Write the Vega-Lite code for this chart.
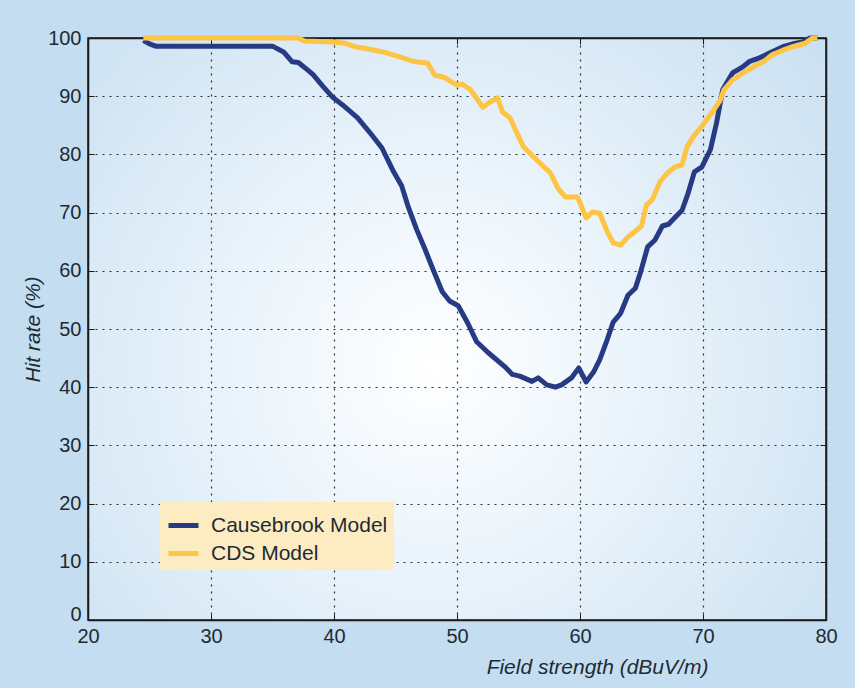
{
  "$schema": "https://vega.github.io/schema/vega-lite/v6.json",
  "width": 738,
  "height": 582,
  "autosize": {"type": "none"},
  "padding": {"left": 88, "top": 38, "right": 29, "bottom": 68},
  "background": "#c5ddf0",
  "config": {
    "font": "Liberation Sans",
    "view": {
      "stroke": "#1a1a1a",
      "strokeWidth": 1.5,
      "fill": {
        "gradient": "radial",
        "x1": 0.47, "y1": 0.55, "r1": 0,
        "x2": 0.47, "y2": 0.55, "r2": 0.75,
        "stops": [
          {"offset": 0, "color": "#ffffff"},
          {"offset": 0.3, "color": "#eef6fc"},
          {"offset": 1, "color": "#c5ddf0"}
        ]
      }
    },
    "axis": {
      "labelFont": "Liberation Sans",
      "labelFontSize": 20,
      "labelColor": "#1d2b33",
      "titleFont": "Liberation Sans",
      "titleFontSize": 21,
      "titleFontWeight": "normal",
      "titleFontStyle": "italic",
      "titleColor": "#1d2b33",
      "domainColor": "#1a1a1a",
      "domainWidth": 1.5,
      "tickColor": "#1a1a1a",
      "tickSize": -6,
      "gridColor": "#1a1a1a",
      "gridDash": [2, 5],
      "gridWidth": 1.2,
      "gridOpacity": 0.9
    },
    "legend": {
      "labelFont": "Liberation Sans"
    }
  },
  "datasets": {
    "curves": [
      {"strength": 24.5, "rate": 99.6, "model": "Causebrook Model"},
      {"strength": 25.0, "rate": 99.0, "model": "Causebrook Model"},
      {"strength": 25.5, "rate": 98.6, "model": "Causebrook Model"},
      {"strength": 30.0, "rate": 98.6, "model": "Causebrook Model"},
      {"strength": 35.0, "rate": 98.6, "model": "Causebrook Model"},
      {"strength": 35.9, "rate": 97.6, "model": "Causebrook Model"},
      {"strength": 36.6, "rate": 95.9, "model": "Causebrook Model"},
      {"strength": 37.1, "rate": 95.8, "model": "Causebrook Model"},
      {"strength": 37.8, "rate": 94.6, "model": "Causebrook Model"},
      {"strength": 38.3, "rate": 93.7, "model": "Causebrook Model"},
      {"strength": 39.1, "rate": 91.7, "model": "Causebrook Model"},
      {"strength": 39.9, "rate": 89.8, "model": "Causebrook Model"},
      {"strength": 40.7, "rate": 88.5, "model": "Causebrook Model"},
      {"strength": 41.9, "rate": 86.3, "model": "Causebrook Model"},
      {"strength": 42.9, "rate": 83.8, "model": "Causebrook Model"},
      {"strength": 43.9, "rate": 81.1, "model": "Causebrook Model"},
      {"strength": 44.8, "rate": 77.2, "model": "Causebrook Model"},
      {"strength": 45.5, "rate": 74.6, "model": "Causebrook Model"},
      {"strength": 46.0, "rate": 71.2, "model": "Causebrook Model"},
      {"strength": 46.7, "rate": 67.2, "model": "Causebrook Model"},
      {"strength": 47.4, "rate": 63.7, "model": "Causebrook Model"},
      {"strength": 48.0, "rate": 60.5, "model": "Causebrook Model"},
      {"strength": 48.8, "rate": 56.4, "model": "Causebrook Model"},
      {"strength": 49.4, "rate": 54.8, "model": "Causebrook Model"},
      {"strength": 50.1, "rate": 54.0, "model": "Causebrook Model"},
      {"strength": 50.9, "rate": 50.9, "model": "Causebrook Model"},
      {"strength": 51.6, "rate": 47.8, "model": "Causebrook Model"},
      {"strength": 52.5, "rate": 46.0, "model": "Causebrook Model"},
      {"strength": 53.9, "rate": 43.5, "model": "Causebrook Model"},
      {"strength": 54.5, "rate": 42.2, "model": "Causebrook Model"},
      {"strength": 55.1, "rate": 41.9, "model": "Causebrook Model"},
      {"strength": 56.1, "rate": 41.0, "model": "Causebrook Model"},
      {"strength": 56.6, "rate": 41.6, "model": "Causebrook Model"},
      {"strength": 57.3, "rate": 40.4, "model": "Causebrook Model"},
      {"strength": 58.0, "rate": 40.0, "model": "Causebrook Model"},
      {"strength": 58.5, "rate": 40.4, "model": "Causebrook Model"},
      {"strength": 59.3, "rate": 41.6, "model": "Causebrook Model"},
      {"strength": 59.9, "rate": 43.3, "model": "Causebrook Model"},
      {"strength": 60.5, "rate": 40.9, "model": "Causebrook Model"},
      {"strength": 61.1, "rate": 42.6, "model": "Causebrook Model"},
      {"strength": 61.6, "rate": 44.7, "model": "Causebrook Model"},
      {"strength": 62.2, "rate": 48.1, "model": "Causebrook Model"},
      {"strength": 62.7, "rate": 51.2, "model": "Causebrook Model"},
      {"strength": 63.3, "rate": 52.7, "model": "Causebrook Model"},
      {"strength": 63.9, "rate": 55.8, "model": "Causebrook Model"},
      {"strength": 64.5, "rate": 57.0, "model": "Causebrook Model"},
      {"strength": 64.9, "rate": 59.6, "model": "Causebrook Model"},
      {"strength": 65.5, "rate": 64.1, "model": "Causebrook Model"},
      {"strength": 66.1, "rate": 65.3, "model": "Causebrook Model"},
      {"strength": 66.7, "rate": 67.7, "model": "Causebrook Model"},
      {"strength": 67.2, "rate": 68.0, "model": "Causebrook Model"},
      {"strength": 67.7, "rate": 69.1, "model": "Causebrook Model"},
      {"strength": 68.3, "rate": 70.4, "model": "Causebrook Model"},
      {"strength": 68.8, "rate": 73.4, "model": "Causebrook Model"},
      {"strength": 69.3, "rate": 77.0, "model": "Causebrook Model"},
      {"strength": 69.9, "rate": 77.8, "model": "Causebrook Model"},
      {"strength": 70.6, "rate": 80.8, "model": "Causebrook Model"},
      {"strength": 71.1, "rate": 85.4, "model": "Causebrook Model"},
      {"strength": 71.6, "rate": 91.1, "model": "Causebrook Model"},
      {"strength": 72.4, "rate": 94.0, "model": "Causebrook Model"},
      {"strength": 73.2, "rate": 95.0, "model": "Causebrook Model"},
      {"strength": 73.8, "rate": 96.0, "model": "Causebrook Model"},
      {"strength": 74.6, "rate": 96.6, "model": "Causebrook Model"},
      {"strength": 75.4, "rate": 97.4, "model": "Causebrook Model"},
      {"strength": 76.5, "rate": 98.5, "model": "Causebrook Model"},
      {"strength": 77.3, "rate": 99.0, "model": "Causebrook Model"},
      {"strength": 78.1, "rate": 99.3, "model": "Causebrook Model"},
      {"strength": 78.7, "rate": 100.0, "model": "Causebrook Model"},
      {"strength": 79.3, "rate": 100.0, "model": "Causebrook Model"},
      {"strength": 24.5, "rate": 100.0, "model": "CDS Model"},
      {"strength": 30.0, "rate": 100.0, "model": "CDS Model"},
      {"strength": 37.1, "rate": 100.0, "model": "CDS Model"},
      {"strength": 37.6, "rate": 99.5, "model": "CDS Model"},
      {"strength": 39.9, "rate": 99.3, "model": "CDS Model"},
      {"strength": 40.9, "rate": 99.1, "model": "CDS Model"},
      {"strength": 41.7, "rate": 98.5, "model": "CDS Model"},
      {"strength": 42.8, "rate": 98.1, "model": "CDS Model"},
      {"strength": 44.0, "rate": 97.6, "model": "CDS Model"},
      {"strength": 45.4, "rate": 96.7, "model": "CDS Model"},
      {"strength": 46.6, "rate": 95.9, "model": "CDS Model"},
      {"strength": 47.6, "rate": 95.7, "model": "CDS Model"},
      {"strength": 48.2, "rate": 93.6, "model": "CDS Model"},
      {"strength": 48.9, "rate": 93.3, "model": "CDS Model"},
      {"strength": 50.0, "rate": 91.9, "model": "CDS Model"},
      {"strength": 50.4, "rate": 92.1, "model": "CDS Model"},
      {"strength": 51.1, "rate": 91.1, "model": "CDS Model"},
      {"strength": 52.1, "rate": 88.1, "model": "CDS Model"},
      {"strength": 52.7, "rate": 89.0, "model": "CDS Model"},
      {"strength": 53.3, "rate": 89.7, "model": "CDS Model"},
      {"strength": 53.7, "rate": 87.3, "model": "CDS Model"},
      {"strength": 54.3, "rate": 86.3, "model": "CDS Model"},
      {"strength": 55.4, "rate": 81.3, "model": "CDS Model"},
      {"strength": 56.5, "rate": 79.0, "model": "CDS Model"},
      {"strength": 57.6, "rate": 76.8, "model": "CDS Model"},
      {"strength": 58.2, "rate": 74.2, "model": "CDS Model"},
      {"strength": 58.8, "rate": 72.7, "model": "CDS Model"},
      {"strength": 59.8, "rate": 72.7, "model": "CDS Model"},
      {"strength": 60.5, "rate": 69.1, "model": "CDS Model"},
      {"strength": 61.0, "rate": 70.1, "model": "CDS Model"},
      {"strength": 61.6, "rate": 69.9, "model": "CDS Model"},
      {"strength": 62.2, "rate": 66.8, "model": "CDS Model"},
      {"strength": 62.7, "rate": 64.8, "model": "CDS Model"},
      {"strength": 63.3, "rate": 64.4, "model": "CDS Model"},
      {"strength": 63.9, "rate": 65.8, "model": "CDS Model"},
      {"strength": 64.5, "rate": 66.8, "model": "CDS Model"},
      {"strength": 65.0, "rate": 67.7, "model": "CDS Model"},
      {"strength": 65.4, "rate": 71.3, "model": "CDS Model"},
      {"strength": 65.9, "rate": 72.3, "model": "CDS Model"},
      {"strength": 66.5, "rate": 75.3, "model": "CDS Model"},
      {"strength": 67.1, "rate": 76.8, "model": "CDS Model"},
      {"strength": 67.7, "rate": 77.8, "model": "CDS Model"},
      {"strength": 68.3, "rate": 78.2, "model": "CDS Model"},
      {"strength": 68.7, "rate": 81.3, "model": "CDS Model"},
      {"strength": 69.2, "rate": 83.0, "model": "CDS Model"},
      {"strength": 70.0, "rate": 85.1, "model": "CDS Model"},
      {"strength": 70.7, "rate": 87.1, "model": "CDS Model"},
      {"strength": 71.4, "rate": 89.3, "model": "CDS Model"},
      {"strength": 71.7, "rate": 91.1, "model": "CDS Model"},
      {"strength": 72.4, "rate": 92.8, "model": "CDS Model"},
      {"strength": 73.4, "rate": 94.2, "model": "CDS Model"},
      {"strength": 74.4, "rate": 95.4, "model": "CDS Model"},
      {"strength": 74.9, "rate": 95.9, "model": "CDS Model"},
      {"strength": 75.6, "rate": 97.1, "model": "CDS Model"},
      {"strength": 76.5, "rate": 97.9, "model": "CDS Model"},
      {"strength": 77.3, "rate": 98.5, "model": "CDS Model"},
      {"strength": 78.3, "rate": 99.1, "model": "CDS Model"},
      {"strength": 78.9, "rate": 100.0, "model": "CDS Model"},
      {"strength": 79.3, "rate": 100.0, "model": "CDS Model"}
    ]
  },
  "data": {"name": "curves"},
  "layer": [
    {
      "transform": [{"filter": "datum.model === 'Causebrook Model'"}],
      "mark": {"type": "line", "strokeWidth": 5, "strokeJoin": "round", "clip": false},
      "encoding": {
        "x": {
          "field": "strength", "type": "quantitative",
          "scale": {"domain": [20, 80], "nice": false, "zero": false},
          "axis": {
            "orient": "bottom",
            "values": [20, 30, 40, 50, 60, 70, 80],
            "labelFlush": false,
            "title": "Field strength (dBuV/m)",
            "titleX": 509,
            "titleAlign": "center",
            "titlePadding": 10,
            "labelPadding": 12,
            "grid": true
          }
        },
        "y": {
          "field": "rate", "type": "quantitative",
          "scale": {"domain": [0, 100], "nice": false},
          "axis": {
            "orient": "left",
            "values": [0, 10, 20, 30, 40, 50, 60, 70, 80, 90, 100],
            "labelFlush": false,
            "labelBaseline": {"condition": {"test": "datum.value === 0", "value": "alphabetic"}, "value": "middle"},
            "title": "Hit rate (%)",
            "titlePadding": 4,
            "labelPadding": 13,
            "grid": true
          }
        },
        "color": {
          "field": "model", "type": "nominal",
          "scale": {"domain": ["Causebrook Model", "CDS Model"], "range": ["#263b84", "#fec443"]},
          "legend": {
            "orient": "none",
            "legendX": 72,
            "legendY": 464,
            "title": null,
            "fillColor": "#fdebc2",
            "padding": 6,
            "symbolType": "stroke",
            "symbolStrokeWidth": 5,
            "symbolSize": 900,
            "labelFontSize": 21,
            "labelLimit": 400,
            "labelColor": "#1d2b33",
            "labelOffset": 10,
            "rowPadding": -12
          }
        }
      }
    },
    {
      "transform": [{"filter": "datum.model === 'CDS Model'"}],
      "mark": {"type": "line", "strokeWidth": 5, "strokeJoin": "round", "clip": false},
      "encoding": {
        "x": {"field": "strength", "type": "quantitative", "axis": null},
        "y": {"field": "rate", "type": "quantitative", "axis": null},
        "color": {"field": "model", "type": "nominal"}
      }
    },
    {
      "mark": {"type": "line", "strokeOpacity": 0},
      "encoding": {
        "x": {
          "field": "strength", "type": "quantitative",
          "axis": {"orient": "top", "values": [20, 30, 40, 50, 60, 70, 80], "labels": false, "title": null, "grid": false}
        },
        "y": {
          "field": "rate", "type": "quantitative",
          "axis": {"orient": "right", "values": [0, 10, 20, 30, 40, 50, 60, 70, 80, 90, 100], "labels": false, "title": null, "grid": false}
        },
        "detail": {"field": "model"}
      }
    }
  ],
  "resolve": {"axis": {"x": "independent", "y": "independent"}}
}
